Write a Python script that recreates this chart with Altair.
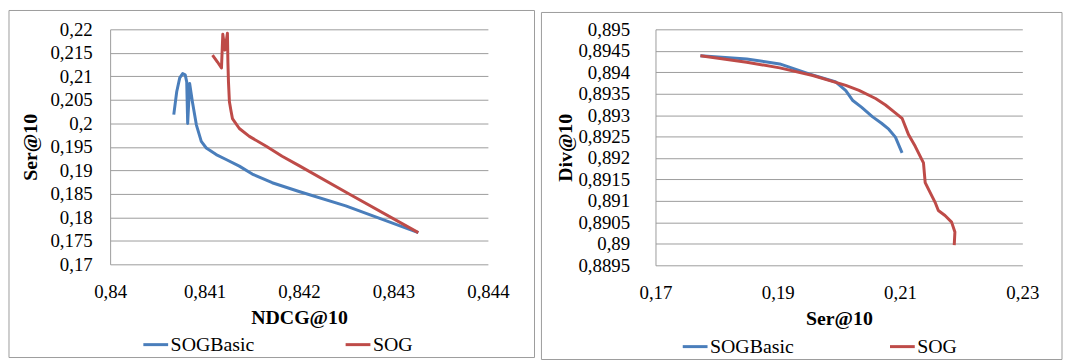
import altair as alt
import pandas as pd

SERIES = ["SOGBasic", "SOG"]
COLORS = ["#4A7EBB", "#BE4B48"]
FONT = "Liberation Serif"

# ---- left panel: NDCG@10 (x) vs Ser@10 (y)
l_basic_ndcg = [0.840674, 0.840705, 0.840737, 0.840768, 0.840795, 0.840811, 0.840821,
                0.840842, 0.840871, 0.840913, 0.840965, 0.841018, 0.841123, 0.841228,
                0.841368, 0.841505, 0.841716, 0.842000, 0.842495, 0.843263]
l_basic_ser = [0.20186, 0.20671, 0.20966, 0.21057, 0.21030, 0.20882, 0.19996,
               0.20846, 0.20460, 0.19968, 0.19616, 0.19475, 0.19335, 0.19230,
               0.19089, 0.18920, 0.18736, 0.18550, 0.18245, 0.17675]
l_sog_ndcg = [0.841084, 0.841137, 0.841179, 0.841193, 0.841216, 0.841242, 0.841247,
              0.841253, 0.841263, 0.841281, 0.841295, 0.841368, 0.841474, 0.841653,
              0.841821, 0.842000, 0.842526, 0.843263]
l_sog_ser = [0.21451, 0.21304, 0.21177, 0.21895, 0.21557, 0.21916, 0.21304,
             0.20882, 0.20460, 0.20249, 0.20101, 0.19890, 0.19722, 0.19511,
             0.19300, 0.19100, 0.18500, 0.17675]

# ---- right panel: Ser@10 (x) vs Div@10 (y)
r_basic_ser = [0.17735, 0.18492, 0.19032, 0.19513, 0.19951, 0.20113, 0.20222,
               0.20373, 0.20546, 0.20697, 0.20815, 0.20924, 0.21033]
r_basic_div = [0.894385, 0.894309, 0.894194, 0.893963, 0.893772, 0.893571, 0.893348,
               0.893180, 0.892965, 0.892811, 0.892673, 0.892488, 0.892120]
r_sog_ser = [0.17735, 0.18492, 0.19032, 0.19573, 0.20113, 0.20329, 0.20600, 0.20762,
             0.20892, 0.21033, 0.21140, 0.21248, 0.21383, 0.21411, 0.21464, 0.21573,
             0.21626, 0.21735, 0.21843, 0.21897, 0.21886]
r_sog_div = [0.894385, 0.894233, 0.894101, 0.893924, 0.893694, 0.893578, 0.893387,
             0.893237, 0.893088, 0.892926, 0.892541, 0.892274, 0.891889, 0.891429,
             0.891274, 0.890968, 0.890776, 0.890661, 0.890507, 0.890276, 0.889970]

# ---- axis ticks
l_x_ticks = [0.84, 0.841, 0.842, 0.843, 0.844]
l_y_ticks = [0.17, 0.175, 0.18, 0.185, 0.19, 0.195, 0.2, 0.205, 0.21, 0.215, 0.22]
r_x_ticks = [0.17, 0.19, 0.21, 0.23]
r_y_ticks = [0.8895, 0.89, 0.8905, 0.891, 0.8915, 0.892, 0.8925, 0.893, 0.8935,
             0.894, 0.8945, 0.895]


def frame(xa, ya, xb, yb):
    rows = []
    for i, (x, y) in enumerate(zip(xa, ya)):
        rows.append({"x": x, "y": y, "s": SERIES[0], "i": i})
    for i, (x, y) in enumerate(zip(xb, yb)):
        rows.append({"x": x, "y": y, "s": SERIES[1], "i": i})
    return pd.DataFrame(rows)


LABEL_EXPR = "replace(toString(datum.value), '.', ',')"
GRAY = "#9c9c9c"


def panel(df, xticks, yticks, xtitle, ytitle, w, h, box, leg, ylabpad, ytitlex, colpad):
    color = alt.Color(
        "s:N",
        scale=alt.Scale(domain=SERIES, range=COLORS),
        legend=alt.Legend(
            title=None, orient="none", legendX=leg[0], legendY=leg[1],
            direction="horizontal", symbolType="stroke", symbolSize=625,
            symbolStrokeWidth=3, labelFont=FONT, labelFontSize=20,
            labelColor="black", columnPadding=colpad, labelOffset=1, padding=0,
        ),
    )
    lines = alt.Chart(df).mark_line(strokeWidth=3, strokeJoin="round").encode(
        x=alt.X(
            "x:Q",
            scale=alt.Scale(domain=[xticks[0], xticks[-1]], nice=False, zero=False),
            axis=alt.Axis(
                values=xticks, grid=False, ticks=False, domain=False,
                labelExpr=LABEL_EXPR, labelFont=FONT, labelFontSize=19,
                labelColor="black", labelFlush=False, labelOverlap=False,
                labelBaseline="middle", labelPadding=27,
                title=xtitle, titleFont=FONT, titleFontSize=20, titleFontWeight="bold",
                titleColor="black", titleBaseline="middle", titleY=54,
            ),
        ),
        y=alt.Y(
            "y:Q",
            scale=alt.Scale(domain=[yticks[0], yticks[-1]], nice=False, zero=False),
            axis=alt.Axis(
                values=yticks, grid=True, gridColor=GRAY, gridWidth=1,
                ticks=False, domain=True, domainColor=GRAY, domainWidth=1,
                labelExpr=LABEL_EXPR, labelFont=FONT, labelFontSize=19,
                labelColor="black", labelFlush=False, labelOverlap=False,
                labelPadding=ylabpad,
                title=ytitle, titleFont=FONT, titleFontSize=20, titleFontWeight="bold",
                titleColor="black", titleBaseline="middle", titleX=ytitlex,
                titleY=h / 2, titleAngle=270,
            ),
        ),
        color=color,
        order="i:Q",
    )
    rect = alt.Chart(alt.Data(values=[{}])).mark_rect(
        fill="white", fillOpacity=0, stroke=GRAY, strokeWidth=1
    ).encode(
        x=alt.value(box[0]), x2=alt.value(box[1]),
        y=alt.value(box[2]), y2=alt.value(box[3]),
    )
    return alt.layer(rect, lines).properties(width=w, height=h)


left = panel(frame(l_basic_ndcg, l_basic_ser, l_sog_ndcg, l_sog_ser),
             l_x_ticks, l_y_ticks, "NDCG@10", "Ser@10", 381, 237,
             (-102, 428, -19, 331), (32, 304), 18, -80, 85)
right = panel(frame(r_basic_ser, r_basic_div, r_sog_ser, r_sog_div),
              r_x_ticks, r_y_ticks, "Ser@10", "Div@10", 370, 238,
              (-115, 410, -17, 333), (26, 306), 26, -91, 90)

chart = (
    alt.hconcat(left, right, spacing=5)
    .resolve_scale(color="independent")
    .resolve_legend(color="independent")
    .properties(padding=0, background="white")
    .configure(font=FONT)
    .configure_view(stroke=None)
)

chart.save("out.html", embed_options={"renderer": "svg", "actions": False})
